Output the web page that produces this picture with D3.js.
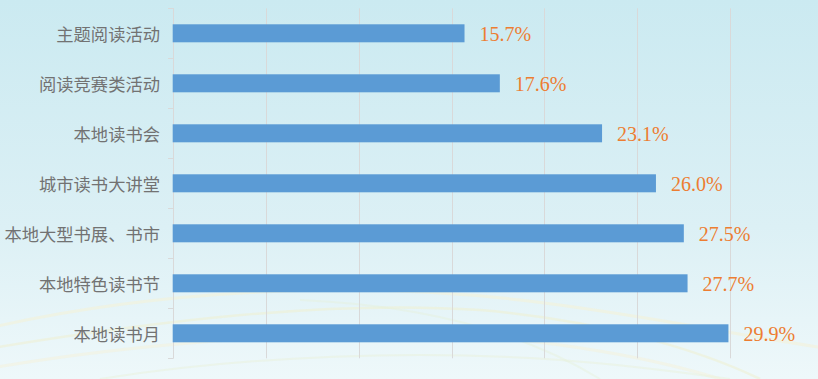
<!DOCTYPE html>
<html>
<head>
<meta charset="utf-8">
<script src="https://cdn.jsdelivr.net/npm/d3@7"></script>
<style>
html,body{margin:0;padding:0;overflow:hidden;}
svg{display:block;}
</style>
</head>
<body>
<svg id="chart" width="818" height="379"></svg>
<script>
const categories = ["主题阅读活动","阅读竞赛类活动","本地读书会","城市读书大讲堂","本地大型书展、书市","本地特色读书节","本地读书月"];
const values = [15.7, 17.6, 23.1, 26.0, 27.5, 27.7, 29.9];
const valueLabels = ["15.7%","17.6%","23.1%","26.0%","27.5%","27.7%","29.9%"];
const xTicks = [0, 5, 10, 15, 20, 25, 30];

(function(){
const W = 818, H = 379;
const svg = d3.select("#chart");
const defs = svg.append("defs");
const bg = defs.append("linearGradient").attr("id","bg").attr("x1",0).attr("y1",0).attr("x2",0).attr("y2",1);
bg.append("stop").attr("offset","0%").attr("stop-color","#cbeaf1");
bg.append("stop").attr("offset","60%").attr("stop-color","#dcf0f5");
bg.append("stop").attr("offset","100%").attr("stop-color","#eef8fa");
svg.append("rect").attr("width",W).attr("height",H).attr("fill","url(#bg)");

// faint decorative arcs
const arcs = svg.append("g").attr("fill","none");
[
  {d:"M-20,330 C150,290 350,280 520,300 C650,315 760,340 840,350", c:"#f3f1d8", w:3, o:0.6},
  {d:"M-20,350 C160,320 330,300 480,310 C600,320 700,350 760,379", c:"#eef0d4", w:2.5, o:0.6},
  {d:"M-20,370 C120,345 300,330 450,335 C560,340 660,360 720,379", c:"#f5f2da", w:3, o:0.5},
  {d:"M100,379 C250,355 420,350 560,360 C640,366 700,375 730,379", c:"#e9f2dc", w:2, o:0.5},
  {d:"M300,300 C420,305 520,330 600,379", c:"#e6efd6", w:2, o:0.4}
].forEach(a => arcs.append("path").attr("d",a.d).attr("stroke",a.c).attr("stroke-width",a.w).attr("opacity",a.o));

const pl = 172.7, pr = 730.3, pt = 8.3, pb = 358.3;
const x = d3.scaleLinear().domain([0, 30]).range([pl, pr]);
const y = d3.scaleBand().domain(categories).range([pt, pb]).paddingInner(0.64).paddingOuter(0.32);

// gridlines
svg.append("g").selectAll("line").data(xTicks.slice(1)).join("line")
  .attr("x1", d => Math.round(x(d)) + 0.5).attr("x2", d => Math.round(x(d)) + 0.5)
  .attr("y1", pt).attr("y2", pb)
  .attr("stroke","#d9d9d9").attr("stroke-width",1);

// y axis line and ticks at band boundaries
const ax = svg.append("g");
ax.append("line").attr("x1", Math.round(pl)+0.5).attr("x2", Math.round(pl)+0.5)
  .attr("y1", pt).attr("y2", pb).attr("stroke","#d9d9d9");
const step = y.step();
const tickYs = d3.range(categories.length + 1).map(i => pt + i*step);
ax.selectAll("line.tk").data(tickYs).join("line").attr("class","tk")
  .attr("x1", Math.round(pl) - 5).attr("x2", Math.round(pl)+0.5)
  .attr("y1", d => Math.round(d)+0.5).attr("y2", d => Math.round(d)+0.5)
  .attr("stroke","#d9d9d9");

// category labels
svg.append("g").selectAll("text").data(categories).join("text")
  .attr("x", 160).attr("y", d => y(d) + y.bandwidth()/2)
  .attr("text-anchor","end").attr("dominant-baseline","central")
  .attr("font-family","'Noto Sans CJK SC', sans-serif").attr("font-size", 17.3)
  .attr("fill","#727272").text(d => d);

// bars
svg.append("g").selectAll("rect").data(values).join("rect")
  .attr("x", x(0)).attr("y", (d,i) => y(categories[i]))
  .attr("width", d => x(d) - x(0)).attr("height", y.bandwidth())
  .attr("fill","#5b9bd5");

// value labels
svg.append("g").selectAll("text").data(values).join("text")
  .attr("x", d => x(d) + 15).attr("y", (d,i) => y(categories[i]) + y.bandwidth()/2 + 1)
  .attr("dominant-baseline","central")
  .attr("font-family","'Liberation Serif', serif").attr("font-size", 20)
  .attr("fill","#ed7d31").text((d,i) => valueLabels[i]);
})();
</script>
</body>
</html>
